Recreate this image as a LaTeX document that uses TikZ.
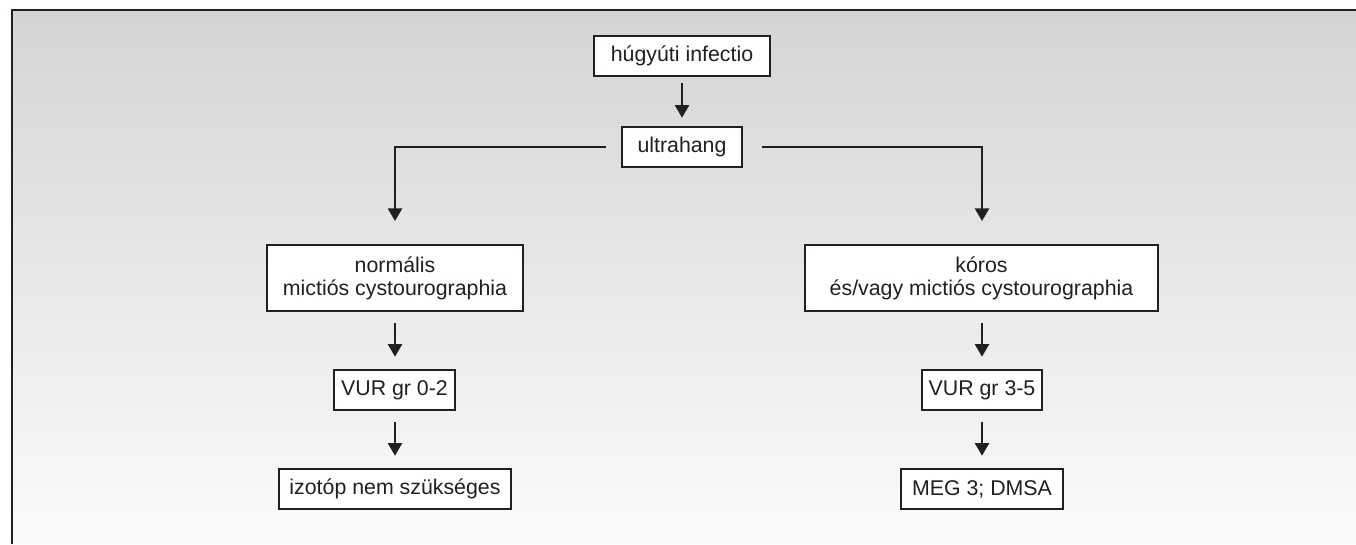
\documentclass[tikz,border=0pt]{standalone}
\usepackage{fontspec}
\setmainfont{Liberation Sans}
\usetikzlibrary{arrows.meta}
\definecolor{topgray}{HTML}{D3D4D6}
\definecolor{botgray}{HTML}{FBFBFB}
\definecolor{ink}{HTML}{231F20}
\begin{document}
\begin{tikzpicture}[x=0.75pt,y=-0.75pt,
  box/.style={draw=ink, line width=1.9pt, fill=white, inner sep=0pt, align=center,
    font=\fontsize{16}{17.2}\selectfont, text=ink},
  arr/.style={draw=ink, line width=1.8pt, -{Triangle[width=10.5pt,length=9.5pt]}},
  frame/.style={draw=ink, line width=1.8pt}]
\useasboundingbox (0,0) rectangle (1356,544);
\shade[top color=topgray, bottom color=botgray] (12,10) rectangle (1356,544);
\coordinate (fa) at (12,544);
\coordinate (fb) at (12,10);
\coordinate (fc) at (1356,10);
\draw[frame] (fa) -- (fb) -- (fc);

\node[box, minimum width=132pt, minimum height=30pt] (inf) at (682,56) {húgyúti infectio};
\node[box, minimum width=90pt, minimum height=30pt] (ultra) at (682,147) {ultrahang};
\node[box, minimum width=192pt, minimum height=49.5pt] (norm) at (395,278) {normális\\mictiós cystourographia};
\node[box, minimum width=264.75pt, minimum height=49.5pt] (koros) at (981.5,278) {kóros\\és/vagy mictiós cystourographia};
\node[box, minimum width=90.75pt, minimum height=30pt] (vur1) at (394.5,390) {VUR gr 0-2};
\node[box, minimum width=90pt, minimum height=30pt] (vur2) at (982,390) {VUR gr 3-5};
\node[box, minimum width=174pt, minimum height=30pt] (izo) at (395,489) {izotóp nem szükséges};
\node[box, minimum width=121.5pt, minimum height=30pt] (meg) at (982,489) {MEG 3; DMSA};

\coordinate (cl) at (395,147);
\coordinate (cr) at (982,147);

\draw[arr, shorten <=4.5pt, shorten >=6pt] (inf.south) -- (ultra.north);
\draw[arr, shorten <=11pt, shorten >=17pt] (ultra.west) -- (cl) -- (norm.north);
\draw[arr, shorten <=14pt, shorten >=17pt] (ultra.east) -- (cr) -- (koros.north -| cr);
\draw[arr, shorten <=8pt, shorten >=9pt] (norm.south) -- (vur1.north -| norm.south);
\draw[arr, shorten <=8pt, shorten >=9pt] (vur1.south -| norm.south) -- (izo.north);
\draw[arr, shorten <=8pt, shorten >=9pt] (koros.south -| vur2.south) -- (vur2.north);
\draw[arr, shorten <=8pt, shorten >=9pt] (vur2.south) -- (meg.north);
\end{tikzpicture}
\end{document}
